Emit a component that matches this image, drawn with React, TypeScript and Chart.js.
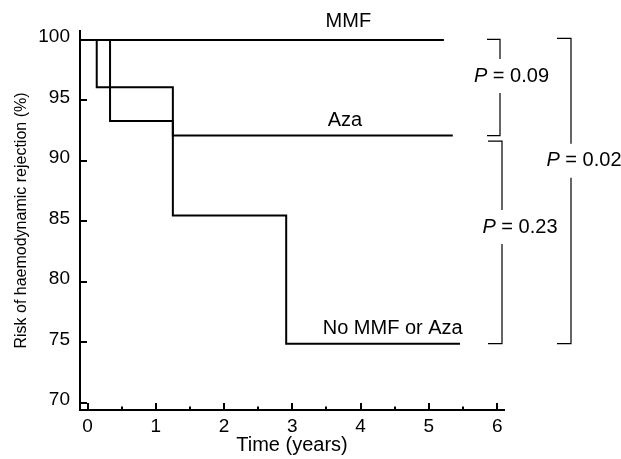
import { useEffect, useRef } from "react";
import { Chart, registerables } from "chart.js";

Chart.register(...registerables);

const FONT = "'Liberation Sans', Arial, Helvetica, sans-serif";

// axis ranges
const X_MIN = -0.11;
const X_MAX = 6.1;
const Y_MIN = 69.42;
const Y_MAX = 100.74;

// tick values
const xTickValues = [0, 1, 2, 3, 4, 5, 6];
const xMinorTickValues = [0.5, 1.5, 2.5, 3.5, 4.5, 5.5];
const yTickValues = [70, 75, 80, 85, 90, 95, 100];

// series
const seriesNames = ["MMF", "Aza", "No MMF or Aza"];
const mmfTimes = [X_MIN, 5.22];
const mmfValues = [100, 100];
const azaTimes = [X_MIN, 0.33, 1.25, 5.35];
const azaValues = [100, 93.3, 92.1, 92.1];
const noneTimes = [X_MIN, 0.135, 1.25, 2.91, 5.455];
const noneValues = [100, 96.1, 85.5, 74.9, 74.9];
const seriesLabelTimes = [3.82, 3.77, 4.47];

// comparison p-values
const pLabels = ["0.09", "0.23", "0.02"];

const toPoints = (t: number[], v: number[]) => t.map((x, i) => ({ x, y: v[i] }));

const overlayPlugin = {
  id: "overlay",
  afterDraw(chart: any) {
    const { ctx, chartArea } = chart;
    const x = chart.scales.x;
    const y = chart.scales.y;
    ctx.save();
    ctx.strokeStyle = "#000";
    ctx.lineWidth = 2;
    ctx.lineCap = "butt";
    // inward ticks
    ctx.beginPath();
    xTickValues.forEach((v) => {
      const px = Math.round(x.getPixelForValue(v));
      ctx.moveTo(px, chartArea.bottom);
      ctx.lineTo(px, chartArea.bottom - 7);
    });
    xMinorTickValues.forEach((v) => {
      const px = Math.round(x.getPixelForValue(v));
      ctx.moveTo(px, chartArea.bottom);
      ctx.lineTo(px, chartArea.bottom - 3.5);
    });
    yTickValues.forEach((v) => {
      const py = Math.round(y.getPixelForValue(v));
      ctx.moveTo(chartArea.left, py);
      ctx.lineTo(chartArea.left + 7, py);
    });
    ctx.stroke();

    // series labels
    ctx.fillStyle = "#000";
    ctx.font = `20px ${FONT}`;
    ctx.textAlign = "center";
    ctx.textBaseline = "alphabetic";
    const ends = [mmfValues, azaValues, noneValues].map((a) => a[a.length - 1]);
    const gaps = [13, 10, 10];
    seriesNames.forEach((name, i) => {
      ctx.fillText(name, x.getPixelForValue(seriesLabelTimes[i]), y.getPixelForValue(ends[i]) - gaps[i]);
    });

    // brackets
    const yMMF = y.getPixelForValue(ends[0]);
    const yAza = y.getPixelForValue(ends[1]);
    const yNone = y.getPixelForValue(ends[2]);
    const R = chartArea.right;
    const brackets = [
      { bx: R - 4, arm: 13, top: yMMF - 0.5, bottom: yAza, ty: y.getPixelForValue(97.02), tx: R + 7.5 },
      { bx: R - 2, arm: 14, top: yAza + 5.5, bottom: yNone, ty: y.getPixelForValue(84.54), tx: R + 16 },
      { bx: R + 67, arm: 14, top: yMMF - 1.5, bottom: yNone, ty: y.getPixelForValue(90.02), tx: R + 80 },
    ];
    ctx.lineWidth = 1.2;
    brackets.forEach((b, i) => {
      ctx.beginPath();
      ctx.moveTo(b.bx - b.arm, b.top);
      ctx.lineTo(b.bx, b.top);
      ctx.lineTo(b.bx, b.ty - 17);
      ctx.moveTo(b.bx, b.ty + 17);
      ctx.lineTo(b.bx, b.bottom);
      ctx.lineTo(b.bx - b.arm, b.bottom);
      ctx.stroke();

      ctx.textBaseline = "middle";
      ctx.textAlign = "left";
      ctx.font = `italic 20px ${FONT}`;
      const pW = ctx.measureText("P").width;
      const rest = " = " + pLabels[i];
      ctx.font = `20px ${FONT}`;
      const rW = ctx.measureText(rest).width;
      const left = b.tx - (pW + rW) / 2;
      ctx.font = `italic 20px ${FONT}`;
      ctx.fillText("P", left, b.ty);
      ctx.font = `20px ${FONT}`;
      ctx.fillText(rest, left + pW, b.ty);
    });
    ctx.restore();
  },
};

export default function App() {
  const ref = useRef<HTMLCanvasElement>(null);
  useEffect(() => {
    if (!ref.current) return;
    const line = (data: any) => ({
      data,
      borderColor: "#000",
      borderWidth: 2,
      pointRadius: 0,
      stepped: "before" as const,
      fill: false,
      tension: 0,
    });
    const chart = new Chart(ref.current, {
      type: "line",
      data: {
        datasets: [
          { label: seriesNames[0], ...line(toPoints(mmfTimes, mmfValues)) },
          { label: seriesNames[1], ...line(toPoints(azaTimes, azaValues)) },
          { label: seriesNames[2], ...line(toPoints(noneTimes, noneValues)) },
        ],
      },
      options: {
        responsive: false,
        animation: false,
        devicePixelRatio: 1,
        layout: { padding: { top: 31, right: 117, left: 0, bottom: 0 } },
        plugins: { legend: { display: false }, tooltip: { enabled: false } },
        scales: {
          x: {
            type: "linear",
            min: X_MIN,
            max: X_MAX,
            afterBuildTicks: (s: any) => {
              s.ticks = xTickValues.map((v) => ({ value: v }));
            },
            afterFit: (s: any) => {
              s.height = 49;
            },
            grid: { display: false, drawTicks: false },
            border: { display: true, color: "#000", width: 2 },
            ticks: {
              color: "#000",
              font: { family: FONT, size: 19 },
              padding: 5,
              maxRotation: 0,
              autoSkip: false,
            },
            title: {
              display: true,
              text: "Time (years)",
              color: "#000",
              font: { family: FONT, size: 20 },
              padding: { top: 0, bottom: 2 },
            },
          },
          y: {
            type: "linear",
            min: Y_MIN,
            max: Y_MAX,
            afterBuildTicks: (s: any) => {
              s.ticks = yTickValues.map((v) => ({ value: v }));
            },
            afterFit: (s: any) => {
              s.width = 80;
            },
            grid: { display: false, drawTicks: false },
            border: { display: true, color: "#000", width: 2 },
            ticks: {
              color: "#000",
              font: { family: FONT, size: 19 },
              padding: 10,
              labelOffset: -3,
              autoSkip: false,
            },
            title: {
              display: true,
              text: "Risk of haemodynamic rejection (%)",
              color: "#000",
              font: { family: FONT, size: 16 },
              padding: { top: 12, bottom: 0 },
            },
          },
        },
      },
      plugins: [overlayPlugin],
    });
    return () => chart.destroy();
  }, []);
  return (
    <div style={{ position: "fixed", left: 0, top: 0, width: 621, height: 459, background: "#fff" }}>
      <canvas ref={ref} width={621} height={459} style={{ width: 621, height: 459, display: "block" }} />
    </div>
  );
}
